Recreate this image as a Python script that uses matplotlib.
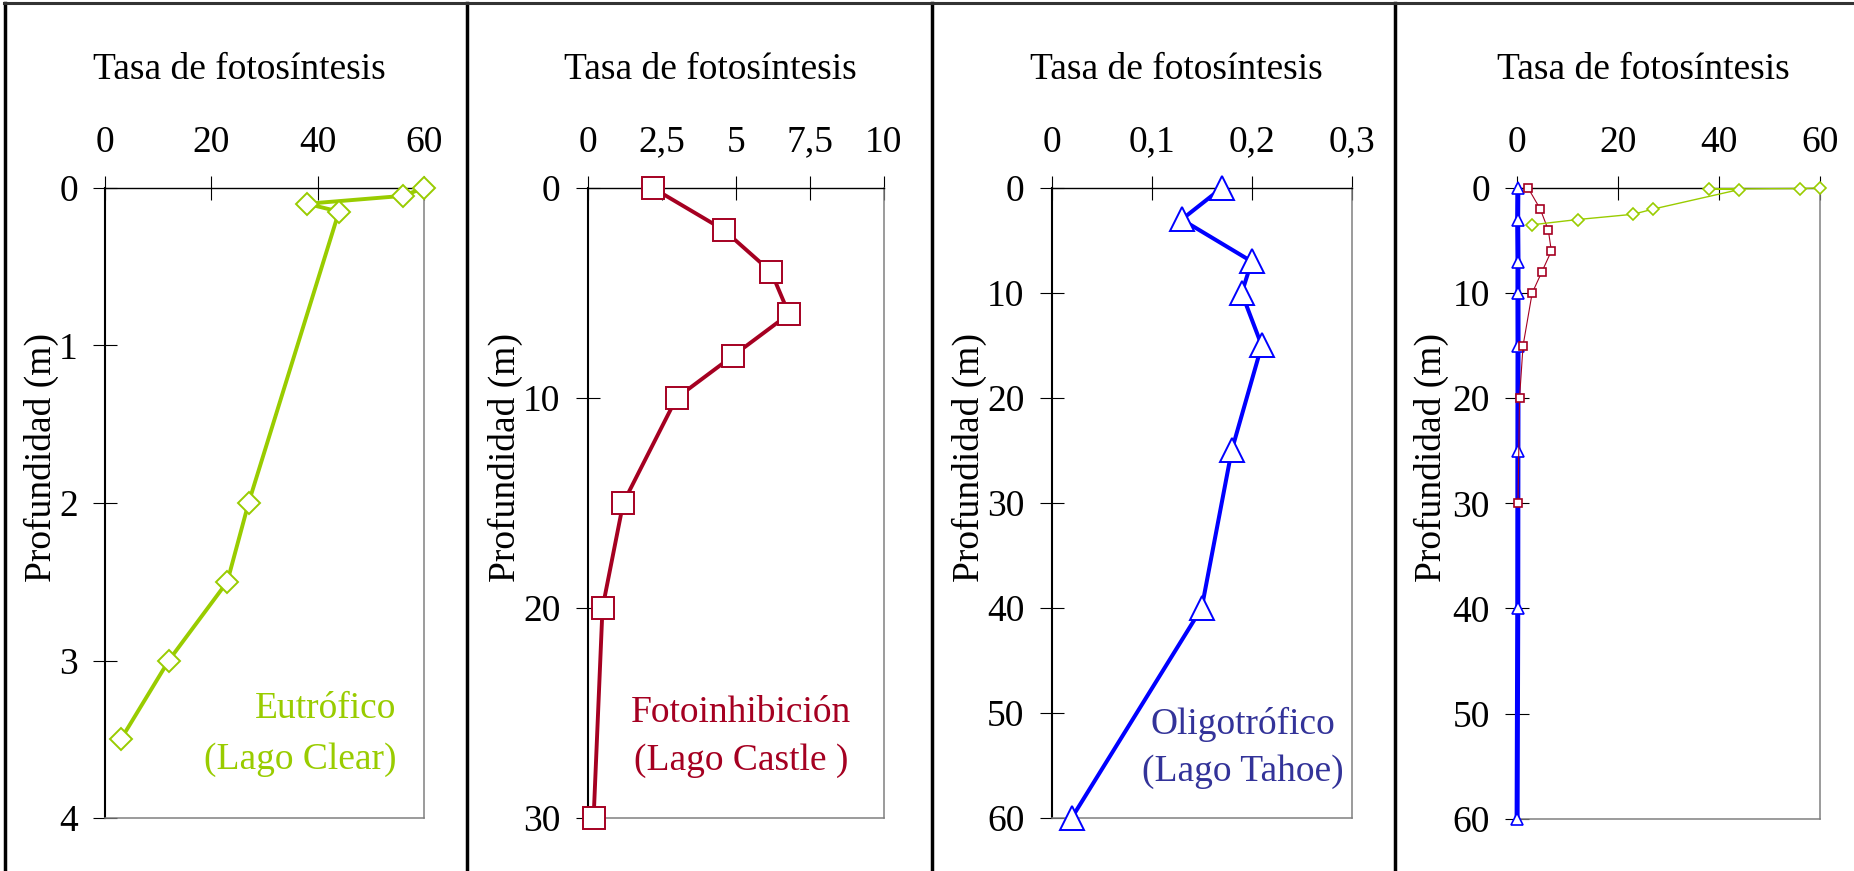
import matplotlib
matplotlib.use("Agg")
import matplotlib.pyplot as plt
from matplotlib.lines import Line2D

# Lago Clear (eutrófico)
clear_depth = [0, 0.05, 0.1, 0.15, 2, 2.5, 3, 3.5]
clear_rate = [60, 56, 38, 44, 27, 23, 12, 3]

# Lago Castle (fotoinhibición)
castle_depth = [0, 2, 4, 6, 8, 10, 15, 20, 30]
castle_rate = [2.2, 4.6, 6.2, 6.8, 4.9, 3.0, 1.2, 0.5, 0.2]

# Lago Tahoe (oligotrófico)
tahoe_depth = [0, 3, 7, 10, 15, 25, 40, 60]
tahoe_rate = [0.17, 0.13, 0.20, 0.19, 0.21, 0.18, 0.15, 0.02]

x_title = "Tasa de fotosíntesis"
y_title = "Profundidad (m)"

GREEN = "#99cc00"
RED = "#a50021"
BLUE = "#0000ff"
TEXT_BLUE = "#333399"

plt.rcParams["font.family"] = ["Liberation Serif", "DejaVu Serif"]
FS = 27

W, H = 1854, 871
fig = plt.figure(figsize=(W / 100, H / 100), dpi=100)


def px_axes(l, t, r, b):
    return fig.add_axes([l / W, 1 - b / H, (r - l) / W, (b - t) / H])


def fx(x):
    return x / W


def fy(y):
    return 1 - y / H


def style(ax, xlim, xticks, xlabels, ylim, yticks):
    ax.set_xlim(*xlim)
    ax.set_ylim(ylim, 0)
    ax.xaxis.tick_top()
    ax.set_xticks(xticks)
    ax.set_xticklabels(xlabels)
    ax.set_yticks(yticks)
    ax.set_yticklabels([str(v) for v in yticks])
    ax.tick_params(axis="x", direction="inout", length=17, width=0.8,
                   labelsize=FS, pad=12, top=True, bottom=False)
    ax.tick_params(axis="y", direction="inout", length=17, width=0.8,
                   labelsize=FS, pad=11)
    ax.spines["left"].set_color("black")
    ax.spines["left"].set_linewidth(1.5)
    ax.spines["top"].set_color("black")
    ax.spines["top"].set_linewidth(1.0)
    for s in ("right", "bottom"):
        ax.spines[s].set_color("#808080")
        ax.spines[s].set_linewidth(1.1)


axes_px = [
    (105, 188, 424, 818),
    (587.7, 188, 883.7, 818),
    (1051.7, 188, 1351.7, 818),
    (1517, 188, 1820, 818.6),
]
ylabel_x = [41, 505, 969.7, 1431]

axs = [px_axes(*p) for p in axes_px]

# panel 1
ax = axs[0]
ax.plot(clear_rate, clear_depth, color=GREEN, lw=2.8, marker="D", ms=11.5,
        mfc="white", mec=GREEN, mew=1.4, clip_on=False, zorder=3)
style(ax, (0, 60), [0, 20, 40, 60], ["0", "20", "40", "60"], 4, [0, 1, 2, 3, 4])

# panel 2
ax = axs[1]
ax.plot(castle_rate, castle_depth, color=RED, lw=2.8, marker="s", ms=16,
        mfc="white", mec=RED, mew=1.4, clip_on=False, zorder=3)
style(ax, (0, 10), [0, 2.5, 5, 7.5, 10], ["0", "2,5", "5", "7,5", "10"],
      30, [0, 10, 20, 30])

# panel 3
ax = axs[2]
ax.plot(tahoe_rate, tahoe_depth, color=BLUE, lw=2.9, marker="^", ms=17,
        mfc="white", mec=BLUE, mew=1.4, clip_on=False, zorder=3)
style(ax, (0, 0.3), [0, 0.1, 0.2, 0.3], ["0", "0,1", "0,2", "0,3"],
      60, [0, 10, 20, 30, 40, 50, 60])

# panel 4: the three lakes on one scale
ax = axs[3]
ax.plot(tahoe_rate, tahoe_depth, color=BLUE, lw=3.6, marker="^", ms=9,
        mfc="white", mec=BLUE, mew=1.2, clip_on=False, zorder=3)
ax.plot(castle_rate, castle_depth, color=RED, lw=0.8, marker="s", ms=6,
        mfc="white", mec=RED, mew=1.2, clip_on=False, zorder=4)
ax.plot(clear_rate, clear_depth, color=GREEN, lw=1.0, marker="D", ms=6,
        mfc="white", mec=GREEN, mew=1.2, clip_on=False, zorder=5)
style(ax, (0, 60), [0, 20, 40, 60], ["0", "20", "40", "60"],
      60, [0, 10, 20, 30, 40, 50, 60])

for (l, t, r, b), yx in zip(axes_px, ylabel_x):
    fig.text(fx((l + r) / 2 - 25), fy(70), x_title, fontsize=FS,
             ha="center", va="center")
    fig.text(fx(yx), fy(457), y_title, fontsize=FS, rotation=90,
             ha="center", va="center")

# lake labels
notes = [
    (["Eutrófico", "(Lago Clear)"], 396, [709, 760], "right", GREEN),
    (["Fotoinhibición", "(Lago Castle )"], 741, [713, 761], "center", RED),
    (["Oligotrófico", "(Lago Tahoe)"], 1243, [724, 772], "center", TEXT_BLUE),
]
for lines, x, ys, ha, col in notes:
    for txt, y in zip(lines, ys):
        fig.text(fx(x), fy(y), txt, fontsize=FS, color=col, ha=ha, va="center")

# table borders
for x in [5, 467, 931.5, 1395]:
    fig.add_artist(Line2D([fx(x), fx(x)], [0, fy(3)], color="black", lw=2.5))
fig.add_artist(Line2D([fx(4), 1], [fy(3), fy(3)], color="#333333", lw=2.2))

fig.savefig("out.png", dpi=100)
plt.close(fig)
